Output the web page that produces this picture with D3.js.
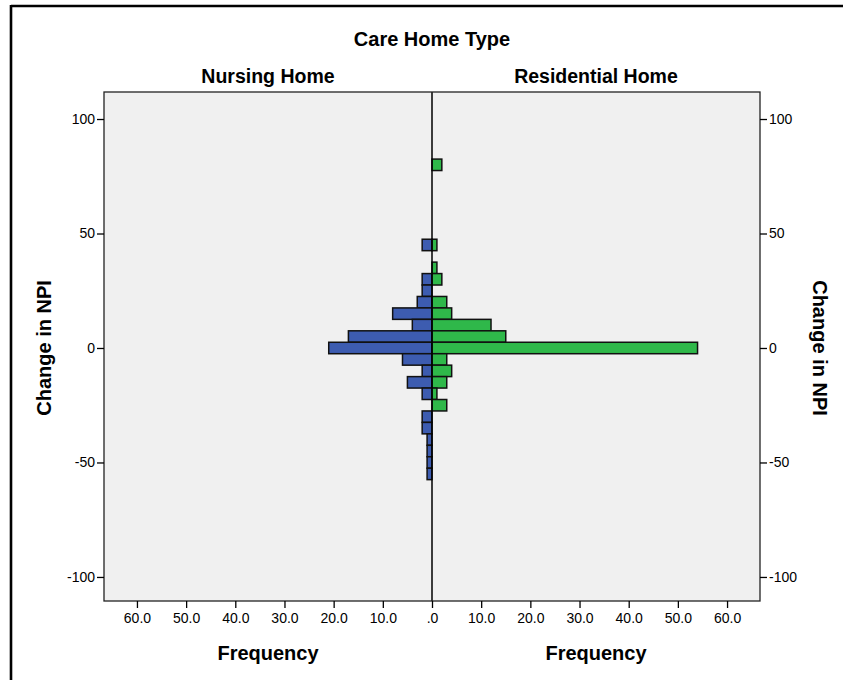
<!DOCTYPE html>
<html>
<head>
<meta charset="utf-8">
<script src="https://cdnjs.cloudflare.com/ajax/libs/d3/7.8.5/d3.min.js"></script>
<style>
html,body{margin:0;padding:0;background:#fff;}
svg{display:block;}
text{font-family:"Liberation Sans",Arial,sans-serif;fill:#000;}
</style>
</head>
<body>
<script>
// Bin centres of "Change in NPI" (bin width 5)
const binCenters = [80, 45, 35, 30, 25, 20, 15, 10, 5, 0, -5, -10, -15, -20, -25, -30, -35, -40, -45, -50, -55];
const nursingFreq = [0, 2, 0, 2, 2, 3, 8, 4, 17, 21, 6, 2, 5, 2, 0, 2, 2, 1, 1, 1, 1];
const residentialFreq = [2, 1, 1, 2, 0, 3, 4, 12, 15, 54, 3, 4, 3, 1, 3, 0, 0, 0, 0, 0, 0];
const binWidth = 5;
const yTicks = [100, 50, 0, -50, -100];
const leftXTicks = [60, 50, 40, 30, 20, 10, 0];
const rightXTicks = [10, 20, 30, 40, 50, 60];
const panelTitles = ["Nursing Home", "Residential Home"];
const mainTitle = "Care Home Type";
const yLabel = "Change in NPI";
const xLabel = "Frequency";

const W = 843, H = 680;
const plot = {left: 104, right: 760, top: 92, bottom: 601, center: 432};

const svg = d3.select("body").append("svg").attr("width", W).attr("height", H);

// outer frame lines
svg.append("line").attr("x1", 11).attr("x2", 843).attr("y1", 6).attr("y2", 6)
  .attr("stroke", "#000").attr("stroke-width", 2.6);
svg.append("line").attr("x1", 11).attr("x2", 11).attr("y1", 5).attr("y2", 680)
  .attr("stroke", "#000").attr("stroke-width", 2.6);

const y = d3.scaleLinear().domain([-110.5, 111.8]).range([plot.bottom, plot.top]);
const xL = d3.scaleLinear().domain([0, 66.7]).range([plot.center, plot.left]);
const xR = d3.scaleLinear().domain([0, 66.7]).range([plot.center, plot.right]);

// plot background
svg.append("rect").attr("x", plot.left).attr("y", plot.top)
  .attr("width", plot.right - plot.left).attr("height", plot.bottom - plot.top)
  .attr("fill", "#f0f0f0").attr("stroke", "none");

const data = binCenters.map((c, i) => ({c, n: nursingFreq[i], r: residentialFreq[i]}));

// nursing bars (left)
svg.append("g").selectAll("rect").data(data.filter(d => d.n > 0)).join("rect")
  .attr("x", d => xL(d.n)).attr("width", d => xL(0) - xL(d.n))
  .attr("y", d => y(d.c + binWidth / 2)).attr("height", d => y(d.c - binWidth / 2) - y(d.c + binWidth / 2))
  .attr("fill", "#3d5cb0").attr("stroke", "#111").attr("stroke-width", 1.5);

// residential bars (right)
svg.append("g").selectAll("rect").data(data.filter(d => d.r > 0)).join("rect")
  .attr("x", xR(0)).attr("width", d => xR(d.r) - xR(0))
  .attr("y", d => y(d.c + binWidth / 2)).attr("height", d => y(d.c - binWidth / 2) - y(d.c + binWidth / 2))
  .attr("fill", "#2fb84a").attr("stroke", "#111").attr("stroke-width", 1.5);

// centre divider
svg.append("line").attr("x1", plot.center).attr("x2", plot.center)
  .attr("y1", plot.top).attr("y2", plot.bottom).attr("stroke", "#000").attr("stroke-width", 1.5);

// frame of the plot
svg.append("rect").attr("x", plot.left).attr("y", plot.top)
  .attr("width", plot.right - plot.left).attr("height", plot.bottom - plot.top)
  .attr("fill", "none").attr("stroke", "#222").attr("stroke-width", 1.3);

function styleAxis(g) {
  g.select(".domain").remove();
  g.selectAll(".tick line").attr("stroke", "#000").attr("stroke-width", 1.3);
  g.selectAll(".tick text").style("font-size", "14px").style("font-family", "'Liberation Sans',Arial,sans-serif");
}

const yFmt = d => String(d);

// y axes
svg.append("g").attr("transform", `translate(${plot.left},0)`)
  .call(d3.axisLeft(y).tickValues(yTicks).tickSize(7).tickPadding(2).tickFormat(yFmt))
  .call(styleAxis);
svg.append("g").attr("transform", `translate(${plot.right},0)`)
  .call(d3.axisRight(y).tickValues(yTicks).tickSize(7).tickPadding(2).tickFormat(yFmt))
  .call(styleAxis);

// x axes
const fmt = d => d === 0 ? ".0" : d.toFixed(1);
svg.append("g").attr("transform", `translate(0,${plot.bottom})`)
  .call(d3.axisBottom(xL).tickValues(leftXTicks).tickSize(7).tickPadding(5).tickFormat(fmt))
  .call(styleAxis);
svg.append("g").attr("transform", `translate(0,${plot.bottom})`)
  .call(d3.axisBottom(xR).tickValues(rightXTicks).tickSize(7).tickPadding(5).tickFormat(fmt))
  .call(styleAxis);

// titles
svg.append("text").attr("x", 432).attr("y", 46).attr("text-anchor", "middle")
  .style("font-size", "20px").style("font-weight", "bold").text(mainTitle);
svg.append("text").attr("x", (plot.left + plot.center) / 2).attr("y", 83).attr("text-anchor", "middle")
  .style("font-size", "19.5px").style("font-weight", "bold").text(panelTitles[0]);
svg.append("text").attr("x", (plot.center + plot.right) / 2).attr("y", 83).attr("text-anchor", "middle")
  .style("font-size", "19.5px").style("font-weight", "bold").text(panelTitles[1]);

svg.append("text").attr("x", (plot.left + plot.center) / 2).attr("y", 660).attr("text-anchor", "middle")
  .style("font-size", "20px").style("font-weight", "bold").text(xLabel);
svg.append("text").attr("x", (plot.center + plot.right) / 2).attr("y", 660).attr("text-anchor", "middle")
  .style("font-size", "20px").style("font-weight", "bold").text(xLabel);

svg.append("text").attr("transform", `translate(51,${y(0)}) rotate(-90)`).attr("text-anchor", "middle")
  .style("font-size", "20px").style("font-weight", "bold").text(yLabel);
svg.append("text").attr("transform", `translate(813,${y(0)}) rotate(90)`).attr("text-anchor", "middle")
  .style("font-size", "20px").style("font-weight", "bold").text(yLabel);
</script>
</body>
</html>
